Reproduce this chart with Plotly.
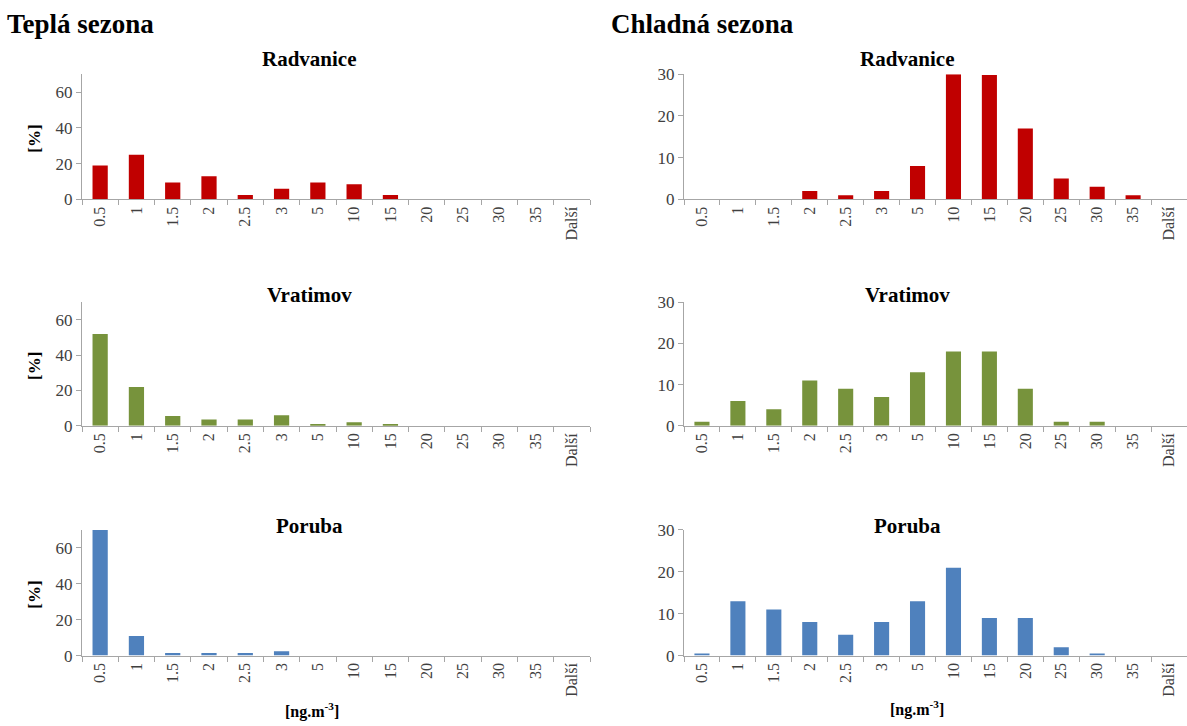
import plotly.graph_objects as go

# Concentration classes (upper bound of bin, ng/m3)
categories = ["0.5", "1", "1.5", "2", "2.5", "3", "5", "10", "15", "20", "25", "30", "35", "Další"]

# Relative frequency [%] – warm season
warm_radvanice = [19, 25, 9.5, 13, 2.5, 6, 9.5, 8.5, 2.5, 0, 0, 0, 0, 0]
warm_vratimov = [52, 22, 5.5, 3.5, 3.5, 6, 1, 2, 1, 0, 0, 0, 0, 0]
warm_poruba = [70, 11, 1.5, 1.5, 1.5, 2.5, 0, 0, 0, 0, 0, 0, 0, 0]

# Relative frequency [%] – cold season
cold_radvanice = [0, 0, 0, 2, 1, 2, 8, 30, 29.8, 17, 5, 3, 1, 0]
cold_vratimov = [1, 6, 4, 11, 9, 7, 13, 18, 18, 9, 1, 1, 0, 0]
cold_poruba = [0.5, 13, 11, 8, 5, 8, 13, 21, 9, 9, 2, 0.5, 0, 0]

stations = ["Radvanice", "Vratimov", "Poruba"]
colors = ["#C00000", "#77933C", "#4F81BD"]

W, H = 1187, 726
SERIF = "Liberation Serif, Times New Roman, serif"


def px_x(x):
    return x / W


def px_y(y):
    return 1 - y / H


# pixel extents of each plot area (top, bottom) per row and (left, right) per column
rows_px = [(67, 195.5), (301, 428), (535, 664)]
cols_px = [(82, 590), (684, 1187)]

fig = go.Figure()

series = [
    [warm_radvanice, warm_vratimov, warm_poruba],
    [cold_radvanice, cold_vratimov, cold_poruba],
]
yranges = [[0, 70], [0, 30]]
ydticks = [20, 10]

annotations = []
idx = 0
for c in range(2):
    for r in range(3):
        idx += 1
        xa = "x" if idx == 1 else f"x{idx}"
        ya = "y" if idx == 1 else f"y{idx}"
        fig.add_trace(go.Bar(
            x=categories, y=series[c][r], marker_color=colors[r],
            marker_line_width=0, xaxis=xa, yaxis=ya, showlegend=False,
        ))
        xkey = "xaxis" if idx == 1 else f"xaxis{idx}"
        ykey = "yaxis" if idx == 1 else f"yaxis{idx}"
        top, bot = rows_px[r]
        left, right = cols_px[c]
        fig.update_layout(**{
            xkey: dict(
                domain=[px_x(left), min(1.0, px_x(right))], anchor=ya, type="category",
                categoryorder="array", categoryarray=categories,
                tickangle=-90, showline=True, linecolor="#A6A6A6", linewidth=1,
                ticks="outside", tickson="boundaries", ticklen=5, tickcolor="#A6A6A6",
                showgrid=False, zeroline=False,
                tickfont=dict(family=SERIF, size=16, color="#404040"),
            ),
            ykey: dict(
                domain=[px_y(bot), px_y(top)], anchor=xa, range=yranges[c],
                dtick=ydticks[c], showline=True, linecolor="#A6A6A6", linewidth=1,
                ticks="outside", ticklen=5, tickcolor="#A6A6A6",
                showgrid=False, zeroline=False,
                tickfont=dict(family=SERIF, size=17, color="#404040"),
            ),
        })

# station titles
title_y = [51, 294, 531]
title_x = [310, 907]
for c in range(2):
    for r in range(3):
        annotations.append(dict(
            text=f"<b>{stations[r]}</b>", x=px_x(title_x[c]), y=px_y(title_y[r]),
            xref="paper", yref="paper", showarrow=False, xanchor="center", yanchor="middle",
            font=dict(family=SERIF, size=21, color="#000000"),
        ))

# season headings
annotations.append(dict(text="<b>Teplá sezona</b>", x=px_x(5), y=px_y(15), xref="paper", yref="paper",
                        showarrow=False, xanchor="left", yanchor="middle",
                        font=dict(family=SERIF, size=27, color="#000000")))
annotations.append(dict(text="<b>Chladná sezona</b>", x=px_x(609), y=px_y(15), xref="paper", yref="paper",
                        showarrow=False, xanchor="left", yanchor="middle",
                        font=dict(family=SERIF, size=27, color="#000000")))

# y-axis titles on the left column
for r in range(3):
    top, bot = rows_px[r]
    annotations.append(dict(text="<b>[%]</b>", x=px_x(35), y=px_y((top + bot) / 2 + 2), xref="paper",
                            yref="paper", showarrow=False, textangle=-90, xanchor="center",
                            yanchor="middle", font=dict(family=SERIF, size=17, color="#000000")))

# x-axis titles on the bottom row
for xc, yc in [(312, 720), (917, 718)]:
    annotations.append(dict(text="<b>[ng.m<sup>-3</sup>]</b>", x=px_x(xc), y=px_y(yc), xref="paper",
                            yref="paper", showarrow=False, xanchor="center", yanchor="middle",
                            font=dict(family=SERIF, size=16, color="#000000")))

fig.update_layout(
    width=W, height=H, margin=dict(l=0, r=0, t=0, b=0),
    paper_bgcolor="white", plot_bgcolor="white",
    bargap=0.58, annotations=annotations,
)

fig.write_html("out.html")
